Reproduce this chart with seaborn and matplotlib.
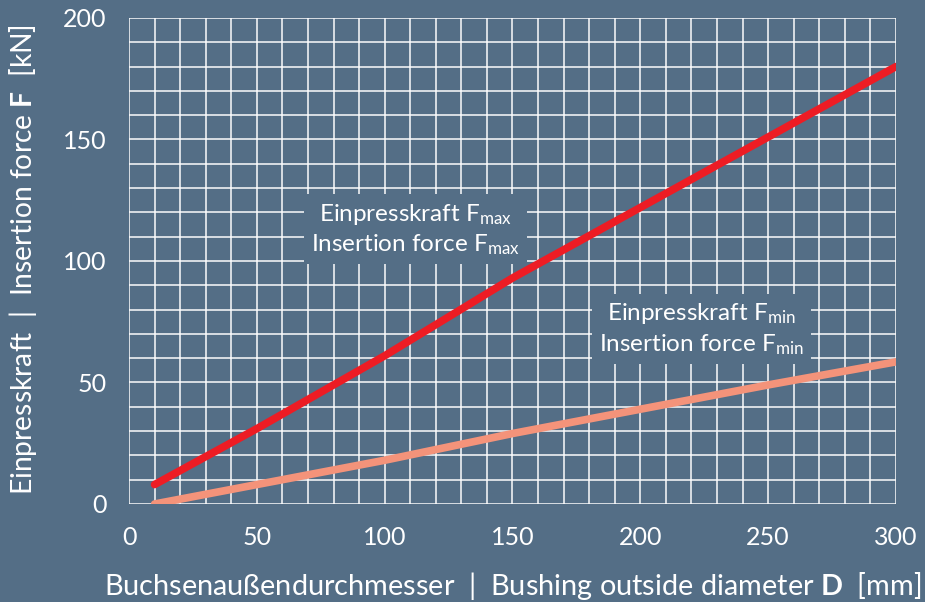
import matplotlib
matplotlib.use('Agg')
import matplotlib.pyplot as plt
import seaborn as sns
import pandas as pd
from matplotlib.ticker import MultipleLocator

# data
diameter = [10, 50, 100, 150, 200, 250, 300]
f_max = [8, 31, 61, 93, 122, 151, 180]
f_min = [0, 8, 18, 29, 39, 49, 58.5]

bg = '#546e86'
red = '#ed1c24'
salmon = '#f4937a'

sns.set_theme(style='white', rc={'axes.facecolor': bg, 'figure.facecolor': bg})
plt.rcParams['font.family'] = ['Lato', 'DejaVu Sans']
plt.rcParams['font.weight'] = 'normal'
plt.rcParams['mathtext.fontset'] = 'custom'
plt.rcParams['mathtext.rm'] = 'Lato'
plt.rcParams['mathtext.bf'] = 'Lato:bold'
plt.rcParams['mathtext.default'] = 'regular'

df = pd.DataFrame({'D': diameter, 'Fmax': f_max, 'Fmin': f_min})

fig = plt.figure(figsize=(9.25, 6.02), dpi=100)
ax = fig.add_axes([0.1395, 0.1628, 0.8291, 0.8073])

sns.lineplot(data=df, x='D', y='Fmax', ax=ax, color=red, linewidth=5.5, zorder=5)
sns.lineplot(data=df, x='D', y='Fmin', ax=ax, color=salmon, linewidth=5.5, zorder=5)

ax.set_xlim(0, 300)
ax.set_ylim(0, 200)
ax.xaxis.set_major_locator(MultipleLocator(50))
ax.yaxis.set_major_locator(MultipleLocator(50))
ax.xaxis.set_minor_locator(MultipleLocator(10))
ax.yaxis.set_minor_locator(MultipleLocator(10))
ax.grid(which='both', color='white', linewidth=1.2, alpha=0.9)
ax.set_axisbelow(True)
for s in ax.spines.values():
    s.set_visible(False)
ax.tick_params(which='major', colors='white', labelcolor='white', labelsize=18,
               width=1.2, direction='out')
ax.tick_params(which='minor', length=0)
ax.tick_params(axis='y', length=13, pad=3)
ax.tick_params(axis='x', length=10, pad=6)

ax.set_xlabel('Buchsenaußendurchmesser  |  Bushing outside diameter $\\mathbf{D}$  [mm]',
              color='white', fontsize=20.8)
ax.set_ylabel('Einpresskraft  |  Insertion force $\\mathbf{F}$  [kN]',
              color='white', fontsize=20.3)
ax.xaxis.set_label_coords(0.5, -0.135)
ax.yaxis.set_label_coords(-0.117, 0.502)

box = dict(boxstyle='square,pad=0.3', facecolor=bg, edgecolor='none')
ax.text(112, 113, 'Einpresskraft F$_{max}$\nInsertion force F$_{max}$', color='white',
        fontsize=17.5, ha='center', va='center', linespacing=1.3, bbox=box, zorder=6)
ax.text(224, 72, 'Einpresskraft F$_{min}$\nInsertion force F$_{min}$', color='white',
        fontsize=17.5, ha='center', va='center', linespacing=1.3, bbox=box, zorder=6)

fig.savefig('out.png', dpi=100, facecolor=bg)
